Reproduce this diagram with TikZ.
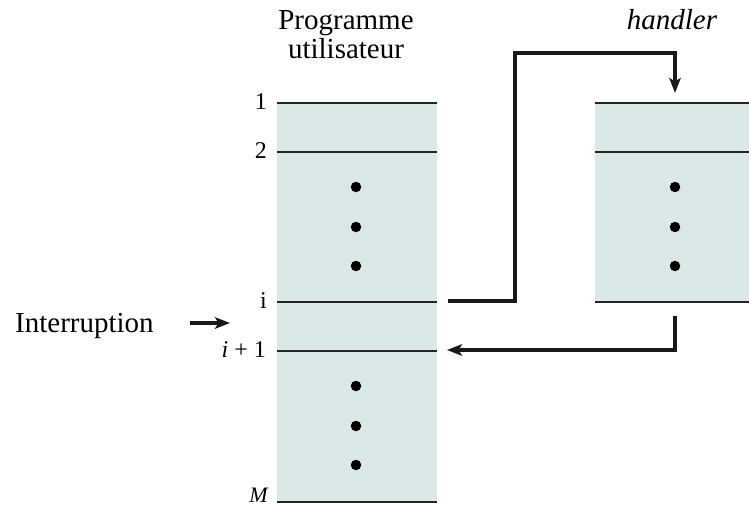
\documentclass[tikz,border=0pt]{standalone}
\usepackage{fontspec}
\setmainfont{Liberation Serif}
\usetikzlibrary{arrows.meta}

\definecolor{memfill}{HTML}{DAE8E7}

\tikzset{
  memline/.style={line width=1.9pt, black!85},
  flow/.style={line width=3.3pt, black!90, -{Stealth[length=15pt,width=11.5pt,inset=3.5pt]}},
  dotmark/.style={circle, fill=black, inner sep=0pt, minimum size=10.5pt},
  rowlabel/.style={anchor=east, font=\fontsize{24}{26}\selectfont, inner sep=0pt},
  title/.style={font=\fontsize{29}{31}\selectfont, align=center, inner sep=0pt},
}

\begin{document}
\begin{tikzpicture}[x=1pt, y=-1pt]
  \useasboundingbox (0,0) rectangle (749,508);

  % user program memory block
  \fill[memfill] (277,103) rectangle (437,502);
  % handler memory block
  \fill[memfill] (595,103) rectangle (749,302);

  % row boundaries of the user program
  \coordinate (u1w) at (277,103);  \coordinate (u1e) at (437,103);
  \coordinate (u2w) at (277,152);  \coordinate (u2e) at (437,152);
  \coordinate (uiw) at (277,302);  \coordinate (uie) at (437,302);
  \coordinate (ujw) at (277,351);  \coordinate (uje) at (437,351);
  \coordinate (umw) at (277,502);  \coordinate (ume) at (437,502);
  \foreach \r in {1,2,i,j,m} { \draw[memline] (u\r w) -- (u\r e); }

  % row boundaries of the handler
  \coordinate (h1w) at (595,103);  \coordinate (h1e) at (749,103);
  \coordinate (h2w) at (595,152);  \coordinate (h2e) at (749,152);
  \coordinate (hbw) at (595,302);  \coordinate (hbe) at (749,302);
  \foreach \r in {1,2,b} { \draw[memline] (h\r w) -- (h\r e); }

  % ellipsis dots
  \foreach \y [count=\k] in {187,227,266} {
    \node[dotmark] (ua\k) at (356,\y) {};
    \node[dotmark] (ha\k) at (675,\y) {};
  }
  \foreach \y [count=\k] in {386,426,465} {
    \node[dotmark] (ub\k) at (356,\y) {};
  }

  % row labels
  \node[rowlabel] (l1) at (267,102) {1};
  \node[rowlabel] (l2) at (267,151) {2};
  \node[rowlabel] (li) at (267,301) {i};
  \node[rowlabel] (lj) at (266,350) {\itshape i\/\upshape{} + 1};
  \node[rowlabel, font=\fontsize{22}{24}\selectfont] (lm) at (268,495) {\itshape M};

  % titles
  \node[title, anchor=base] (tprog) at (346,30) {Programme};
  \node[title, anchor=base] (tprog2) at (346,59) {utilisateur};
  \node[title, anchor=base] (thand) at (672,30) {\itshape handler};

  % interrupt marker
  \node[title, anchor=base west] (tint) at (15,332) {Interruption};
  \coordinate (ia) at (190,323);
  \coordinate (ib) at (230,323);
  \draw[flow] (ia) -- (ib);

  % transfer to the handler and return
  \coordinate (outA) at (448,301);
  \coordinate (inH) at (675,93);
  \draw[flow] (outA) -- (515,301) |- (675,53) -- (inH);

  \coordinate (outH) at (675,316);
  \coordinate (inB) at (447,350);
  \draw[flow] (outH) |- (inB);
\end{tikzpicture}
\end{document}
